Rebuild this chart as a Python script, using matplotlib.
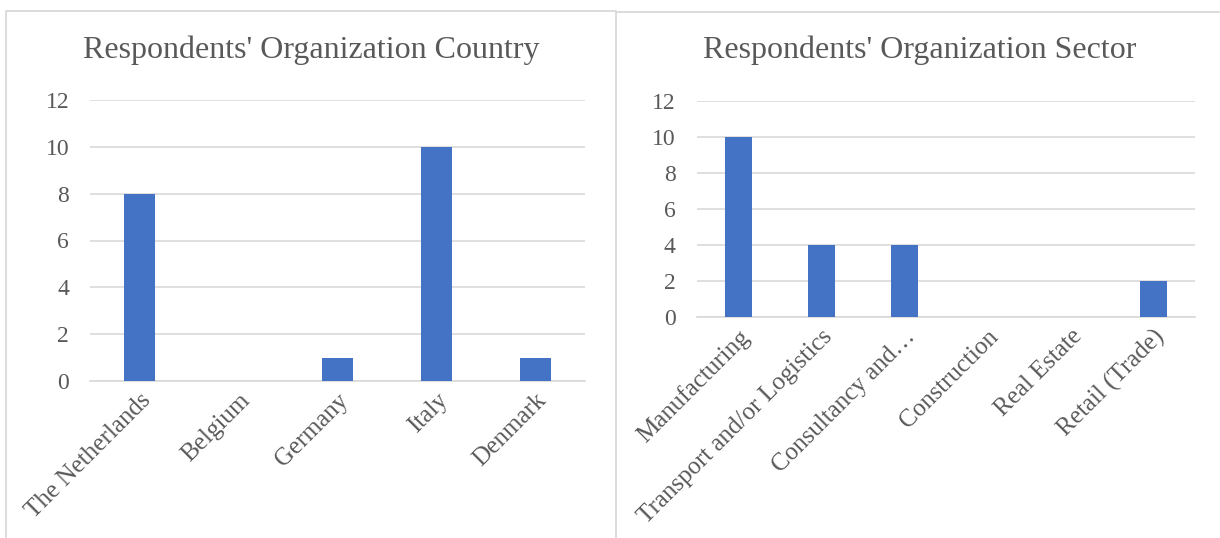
import matplotlib.pyplot as plt
from matplotlib.lines import Line2D

####DATA
countries = ["The Netherlands", "Belgium", "Germany", "Italy", "Denmark"]
country_counts = [8, 0, 1, 10, 1]

sectors = ["Manufacturing", "Transport and/or Logistics", "Consultancy and\u2026",
           "Construction", "Real Estate", "Retail (Trade)"]
sector_counts = [10, 4, 4, 0, 0, 2]

yticks = [0, 2, 4, 6, 8, 10, 12]

####STYLE
plt.rcParams['font.family'] = ['Liberation Serif', 'DejaVu Serif']
BAR = '#4472C4'
GRID = '#D9D9D9'
TXT = '#595959'

W, H = 1220, 538
fig = plt.figure(figsize=(W / 100, H / 100), dpi=100)


def px_axes(x0, x1, ytop, ybot):
    return fig.add_axes([x0 / W, (H - ybot) / H, (x1 - x0) / W, (ybot - ytop) / H])


def px_line(xs, ys):
    fig.add_artist(Line2D([x / W for x in xs], [1 - y / H for y in ys],
                          transform=fig.transFigure, color=GRID, linewidth=1.3))


def bar_panel(ax, cats, vals, width, ypad):
    xs = range(len(cats))
    ax.bar(xs, vals, width=width, color=BAR, zorder=3)
    ax.set_xlim(-0.5, len(cats) - 0.5)
    ax.set_ylim(0, 12)
    ax.set_yticks(yticks)
    ax.set_yticklabels([str(t) for t in yticks], fontsize=17, color=TXT)
    ax.set_xticks(list(xs))
    ax.set_xticklabels(cats, rotation=45, ha='right', rotation_mode='anchor',
                       fontsize=18, color=TXT)
    ax.grid(axis='y', color=GRID, linewidth=1.2, zorder=0)
    for s in ['top', 'right', 'left']:
        ax.spines[s].set_visible(False)
    ax.spines['bottom'].set_color(GRID)
    ax.spines['bottom'].set_linewidth(1.2)
    ax.tick_params(axis='both', length=0)
    ax.tick_params(axis='y', pad=ypad)
    ax.tick_params(axis='x', pad=6)
    ax.set_facecolor('none')


# chart frames
px_line([6, 6, 616, 616], [538, 11, 11, 538])
px_line([616, 1220], [12, 12])

####LEFT CHART
ax1 = px_axes(90, 585, 100, 381)
bar_panel(ax1, countries, country_counts, 0.31, 15)
fig.text(311 / W, 1 - 50 / H, "Respondents' Organization Country",
         ha='center', va='center', fontsize=23, color=TXT)

####RIGHT CHART
ax2 = px_axes(697, 1195, 101, 317)
bar_panel(ax2, sectors, sector_counts, 0.32, 15.5)
fig.text(920 / W, 1 - 50 / H, "Respondents' Organization Sector",
         ha='center', va='center', fontsize=23, color=TXT)

fig.savefig('out.png', dpi=100)
